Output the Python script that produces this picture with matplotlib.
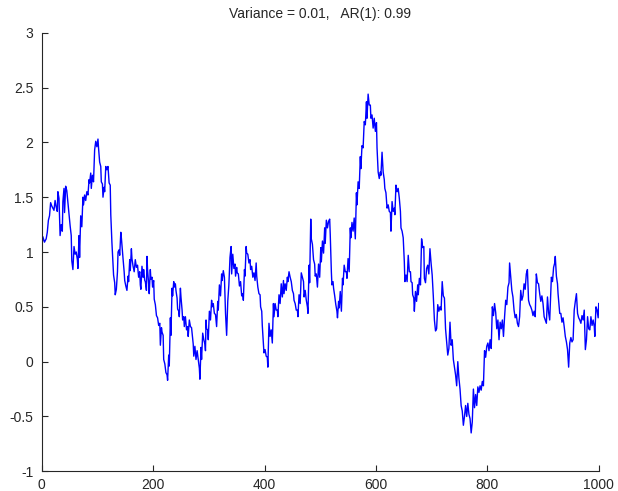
import matplotlib
matplotlib.use("Agg")
import matplotlib.pyplot as plt
import numpy as np

# AR(1) series as (step, value) pairs, split by region
seg_a = [
    (0, 1.02), (2, 1.14), (5, 1.09), (8, 1.12), (10, 1.18), (12, 1.29), (14, 1.33),
    (16, 1.45), (18, 1.42), (20, 1.40), (22, 1.38), (24, 1.47), (26, 1.41), (28, 1.37),
    (29, 1.55), (31, 1.49), (33, 1.15), (35, 1.25), (37, 1.19), (38, 1.46), (40, 1.58),
    (41, 1.36), (43, 1.60), (45, 1.56), (47, 1.45), (49, 1.34), (51, 1.24), (53, 1.15),
    (54, 0.92), (56, 0.84), (58, 1.05), (60, 0.98), (62, 1.00), (64, 0.93), (65, 0.85),
    (67, 1.15), (68, 0.95), (70, 1.33), (72, 1.23), (74, 1.50), (75, 1.43), (77, 1.52),
    (79, 1.47), (81, 1.55), (83, 1.52), (85, 1.66), (86, 1.63), (88, 1.72), (89, 1.58),
    (91, 1.70), (93, 1.64), (95, 1.93), (97, 2.01), (99, 1.96), (101, 2.03), (102, 1.95),
    (104, 1.82), (106, 1.78), (107, 1.64), (109, 1.62), (110, 1.50), (112, 1.59),
    (113, 1.55), (115, 1.78), (117, 1.75), (119, 1.78), (121, 1.63), (123, 1.61),
    (124, 1.34), (126, 1.09), (128, 0.88), (129, 0.79), (131, 0.72), (132, 0.61),
    (134, 0.66), (136, 0.82), (137, 1.00), (139, 1.02), (140, 0.97), (142, 1.18),
    (143, 1.13), (145, 1.00), (146, 0.94), (148, 0.82), (149, 0.74), (151, 0.69),
    (153, 0.65), (155, 0.78), (156, 0.73), (158, 0.93), (159, 0.83), (161, 1.03),
    (162, 0.94), (164, 0.87), (166, 0.82), (168, 0.93), (170, 0.86), (172, 0.88),
    (174, 0.77),
]
seg_b = [
    (176, 0.82), (177, 0.70), (178, 0.66), (180, 0.87), (182, 0.77), (183, 0.84),
    (185, 0.74), (186, 0.73), (188, 0.65), (189, 0.96), (190, 0.84), (192, 0.71),
    (193, 0.62), (195, 0.84), (196, 0.75), (198, 0.77), (199, 0.68), (201, 0.74),
    (202, 0.57), (204, 0.52), (206, 0.42), (208, 0.40), (210, 0.33), (212, 0.35),
    (213, 0.15), (215, 0.31), (216, 0.27), (218, 0.24), (219, 0.02), (221, -0.02),
    (223, -0.10), (225, -0.12), (226, -0.17), (228, 0.06), (229, -0.04), (231, 0.40),
    (232, 0.24), (234, 0.67), (235, 0.60), (237, 0.73), (238, 0.68), (240, 0.71),
    (241, 0.65), (243, 0.58), (244, 0.48), (246, 0.46), (247, 0.41), (249, 0.67),
    (250, 0.59), (252, 0.47), (253, 0.38), (255, 0.41), (256, 0.32), (258, 0.41),
    (260, 0.29), (262, 0.32), (263, 0.23), (265, 0.38), (267, 0.32), (269, 0.31),
    (270, 0.26), (272, 0.16), (273, 0.05), (275, 0.14), (277, 0.02), (279, 0.10),
    (281, 0.02), (283, -0.06), (284, -0.16), (286, 0.13), (287, 0.02), (289, 0.26),
    (291, 0.20), (293, 0.16), (294, 0.10), (295, 0.38), (296, 0.30), (298, 0.29),
    (299, 0.20), (301, 0.46), (303, 0.38), (305, 0.56), (306, 0.50), (308, 0.53),
    (310, 0.44), (312, 0.43), (314, 0.32), (316, 0.55), (317, 0.47), (319, 0.70),
    (321, 0.60), (323, 0.80), (324, 0.74), (326, 0.83), (328, 0.77), (330, 0.44),
    (332, 0.24), (334, 0.55), (336, 0.70), (338, 0.95), (340, 1.05), (341, 0.80),
    (343, 0.98), (345, 0.85),
]
seg_c = [
    (347, 0.89), (348, 0.78), (350, 0.86), (351, 0.81), (353, 0.80), (355, 0.69),
    (357, 0.73), (359, 0.60), (361, 0.62), (362, 0.56), (364, 0.84), (365, 0.78),
    (367, 1.05), (368, 0.99), (370, 0.98), (372, 0.90), (374, 0.93), (375, 0.84),
    (377, 0.87), (379, 0.77), (381, 0.81), (383, 0.74), (385, 0.90), (386, 0.78),
    (388, 0.68), (390, 0.62), (392, 0.61), (393, 0.50), (395, 0.46), (396, 0.33),
    (398, 0.17), (399, 0.08), (401, 0.11), (403, 0.05), (405, 0.04), (406, -0.05),
    (408, 0.35), (410, 0.23), (412, 0.29), (414, 0.17), (416, 0.53), (417, 0.41),
    (419, 0.53), (421, 0.47), (423, 0.47), (424, 0.41), (426, 0.61), (428, 0.53),
    (430, 0.71), (432, 0.59), (434, 0.74), (435, 0.62), (437, 0.71), (439, 0.65),
    (441, 0.77), (442, 0.73), (444, 0.82), (446, 0.77), (448, 0.73), (450, 0.65),
    (452, 0.62), (453, 0.56), (455, 0.53), (457, 0.47), (459, 0.47), (460, 0.41),
    (462, 0.61), (464, 0.53), (466, 0.81), (468, 0.77), (470, 0.73), (471, 0.59),
    (473, 0.65), (475, 0.56), (477, 0.50), (478, 0.44), (480, 0.88), (481, 0.72),
    (483, 1.30), (484, 1.12), (486, 1.07), (488, 0.93), (490, 0.89), (491, 0.78),
    (493, 0.80), (495, 0.68), (497, 0.89), (499, 0.77), (501, 1.04), (502, 0.91),
    (504, 1.10), (506, 0.99), (508, 1.22), (509, 1.08), (511, 1.29), (513, 1.22),
    (515, 1.28),
]
seg_d = [
    (517, 1.30), (518, 1.16), (520, 0.82), (521, 0.70), (523, 0.73), (524, 0.67),
    (526, 0.60), (528, 0.52), (530, 0.46), (531, 0.40), (533, 0.55), (534, 0.49),
    (536, 0.64), (538, 0.46), (540, 0.76), (541, 0.70), (543, 0.88), (545, 0.82),
    (547, 0.82), (548, 0.76), (550, 0.94), (552, 0.82), (554, 1.22), (555, 1.13),
    (557, 1.27), (559, 1.19), (561, 1.31), (563, 1.12), (565, 1.54), (566, 1.43),
    (568, 1.64), (570, 1.58), (572, 1.87), (573, 1.76), (575, 1.97), (577, 1.95),
    (579, 2.19), (581, 2.16), (583, 2.37), (584, 2.22), (586, 2.44), (588, 2.34),
    (590, 2.34), (591, 2.22), (593, 2.25), (595, 2.13), (597, 2.22), (599, 2.10),
    (601, 2.18), (602, 1.95), (604, 1.73), (606, 1.67), (608, 1.73), (609, 1.70),
    (611, 1.91), (613, 1.73), (615, 1.66), (616, 1.58), (618, 1.54), (620, 1.40),
    (622, 1.43), (624, 1.37), (626, 1.36), (627, 1.19), (629, 1.46), (631, 1.37),
    (633, 1.40), (634, 1.34), (636, 1.61), (638, 1.55), (640, 1.58), (642, 1.49),
    (644, 1.37), (645, 1.22), (647, 1.19), (649, 1.13), (651, 0.91), (652, 0.73),
    (654, 0.79), (656, 0.73), (658, 0.97), (660, 0.82), (662, 0.82), (663, 0.73),
    (665, 0.72), (666, 0.61), (668, 0.58), (669, 0.46), (671, 0.64), (673, 0.55),
    (675, 0.70), (676, 0.61), (678, 0.76), (680, 0.70), (682, 1.12), (684, 1.04),
    (686, 1.05), (687, 0.76),
]
seg_e = [
    (689, 0.72), (691, 0.85), (693, 0.88), (695, 0.80), (697, 1.03), (699, 0.90),
    (701, 0.79), (703, 0.60), (705, 0.38), (707, 0.28), (709, 0.30), (711, 0.52),
    (713, 0.46), (715, 0.50), (717, 0.47), (719, 0.73), (721, 0.60), (723, 0.58),
    (725, 0.30), (727, 0.18), (729, 0.06), (731, 0.12), (733, 0.36), (735, 0.15),
    (737, 0.20), (739, 0.02), (741, -0.05), (743, -0.12), (745, -0.22), (747, 0.00),
    (749, -0.15), (751, -0.25), (753, -0.40), (755, -0.45), (757, -0.58), (759, -0.50),
    (761, -0.40), (763, -0.50), (765, -0.38), (767, -0.48), (769, -0.52), (771, -0.65),
    (773, -0.55), (775, -0.25), (777, -0.42), (779, -0.30), (781, -0.40), (783, -0.23),
    (785, -0.28), (787, -0.22), (789, -0.26), (791, -0.18), (793, -0.22), (795, 0.10),
    (797, 0.04), (799, 0.14), (801, 0.17), (803, 0.10), (805, 0.20), (807, 0.12),
]
seg_f = [
    (809, 0.50), (811, 0.42), (813, 0.53), (815, 0.45), (817, 0.30), (819, 0.38),
    (821, 0.20), (823, 0.36), (825, 0.30), (827, 0.38), (829, 0.23), (831, 0.41),
    (833, 0.56), (835, 0.52), (837, 0.68), (839, 0.72), (840, 0.90), (842, 0.77),
    (844, 0.65), (846, 0.59), (848, 0.47), (850, 0.40), (852, 0.43), (854, 0.35),
    (856, 0.32), (858, 0.41), (860, 0.65), (862, 0.56), (864, 0.60), (866, 0.71),
    (868, 0.66), (870, 0.80), (872, 0.84), (874, 0.56), (876, 0.52), (878, 0.50),
    (880, 0.47), (882, 0.42), (884, 0.46), (886, 0.41), (888, 0.80), (890, 0.72),
    (892, 0.71), (894, 0.62), (896, 0.55), (898, 0.60), (900, 0.53), (902, 0.41),
    (904, 0.38), (906, 0.35), (908, 0.59), (910, 0.45), (912, 0.38), (915, 0.77),
    (917, 0.73), (919, 0.86), (921, 0.90), (922, 0.96), (924, 0.78), (926, 0.71),
    (927, 0.62), (929, 0.50), (930, 0.44), (932, 0.44), (934, 0.36), (936, 0.40),
    (938, 0.32), (940, 0.23), (942, 0.18), (944, 0.11), (946, -0.05), (948, 0.17),
    (950, 0.22), (952, 0.18), (954, 0.20), (956, 0.47), (958, 0.55), (960, 0.62),
    (962, 0.44), (964, 0.40), (966, 0.38), (968, 0.35), (970, 0.42), (972, 0.38),
    (974, 0.47), (976, 0.11), (978, 0.20), (980, 0.41), (982, 0.30), (984, 0.29),
    (986, 0.41), (988, 0.33), (990, 0.38), (992, 0.32), (993, 0.23), (995, 0.50),
    (997, 0.47), (999, 0.40), (1000, 0.53),
]

x_ticks = [0, 200, 400, 600, 800, 1000]
y_ticks = [-1, -0.5, 0, 0.5, 1, 1.5, 2, 2.5, 3]
title = "Variance = 0.01,   AR(1): 0.99"

series = np.array(seg_a + seg_b + seg_c + seg_d + seg_e + seg_f)

plt.rcParams["font.family"] = ["Liberation Sans", "DejaVu Sans"]

fig = plt.figure(figsize=(6.18, 4.91), dpi=100)
ax = fig.add_axes([0.0675, 0.0401, 0.9013, 0.8933])

ax.plot(series[:, 0], series[:, 1], color="#0000ff", linewidth=1.0)

ax.set_xlim(0, 1000)
ax.set_ylim(-1, 3)
ax.set_xticks(x_ticks)
ax.set_yticks(y_ticks)
ax.set_yticklabels([f"{v:g}" for v in y_ticks])
ax.tick_params(direction="in", length=4.3, width=0.8, labelsize=10,
               colors="#262626")
ax.tick_params(axis="y", pad=6)
ax.tick_params(axis="x", pad=5)
ax.spines["top"].set_visible(False)
ax.spines["right"].set_visible(False)
for s in ("left", "bottom"):
    ax.spines[s].set_linewidth(0.8)
    ax.spines[s].set_color("#262626")

fig.text(0.518, 0.971, title, ha="center", va="center", fontsize=10,
         color="#262626")

fig.savefig("out.png", dpi=100)
